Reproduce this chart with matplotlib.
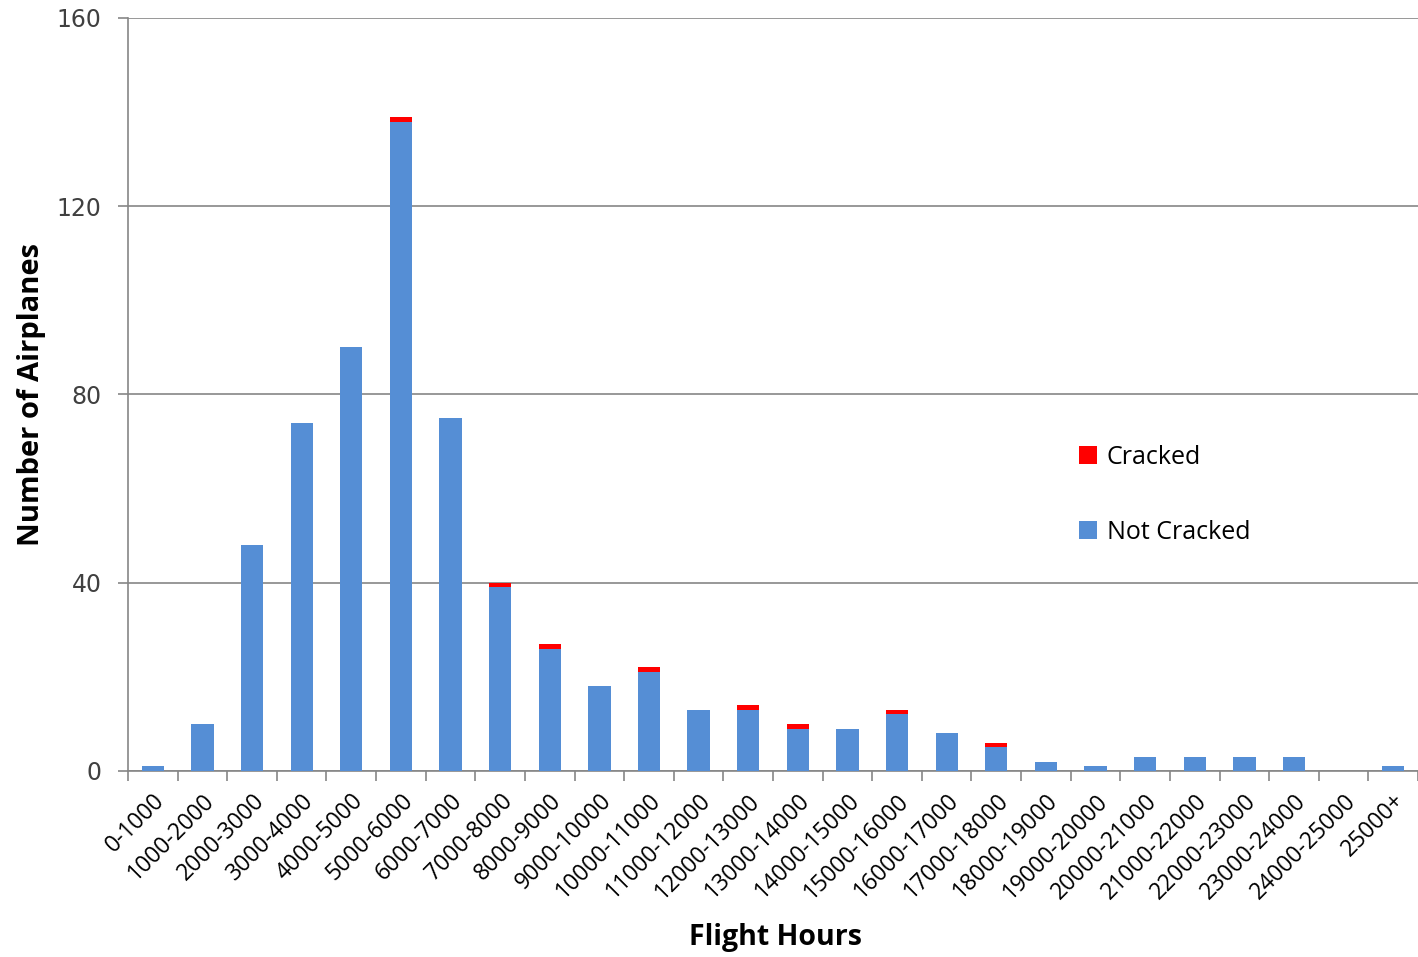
import matplotlib
matplotlib.use("Agg")
import matplotlib.pyplot as plt
import numpy as np

# flight hour bins
categories = [
    "0-1000", "1000-2000", "2000-3000", "3000-4000", "4000-5000", "5000-6000",
    "6000-7000", "7000-8000", "8000-9000", "9000-10000", "10000-11000",
    "11000-12000", "12000-13000", "13000-14000", "14000-15000", "15000-16000",
    "16000-17000", "17000-18000", "18000-19000", "19000-20000", "20000-21000",
    "21000-22000", "22000-23000", "23000-24000", "24000-25000", "25000+",
]
not_cracked = [1, 10, 48, 74, 90, 138, 75, 39, 26, 18, 21, 13, 13, 9, 9, 12,
               8, 5, 2, 1, 3, 3, 3, 3, 0, 1]
cracked = [0, 0, 0, 0, 0, 1, 0, 1, 1, 0, 1, 0, 1, 1, 0, 1,
           0, 1, 0, 0, 0, 0, 0, 0, 0, 0]

blue = "#558ed5"
red = "#ff0000"
grid_gray = "#868686"

fig = plt.figure(figsize=(14.18, 9.57), dpi=100)
ax = fig.add_axes([0.0903, 0.1944, 0.9097, 0.7868])

x = np.arange(len(categories))
ax.bar(x, not_cracked, width=0.45, color=blue, label="Not Cracked", zorder=3)
ax.bar(x, cracked, width=0.45, bottom=not_cracked, color=red, label="Cracked", zorder=3)

ax.set_xlim(-0.5, len(categories) - 0.5)
ax.set_ylim(0, 160)
ax.set_yticks([0, 40, 80, 120, 160])
ax.yaxis.grid(True, color=grid_gray, linewidth=1.2, zorder=0)
ax.set_axisbelow(True)

for side in ["top", "right"]:
    ax.spines[side].set_visible(False)
ax.spines["left"].set_color(grid_gray)
ax.spines["bottom"].set_color(grid_gray)
ax.spines["left"].set_linewidth(1.2)
ax.spines["bottom"].set_linewidth(1.2)

# ticks at category boundaries, labels centred on bars
ax.set_xticks(np.arange(len(categories) + 1) - 0.5)
ax.set_xticklabels([])
ax.set_xticks(x, minor=True)
ax.set_xticklabels(categories, minor=True, rotation=45, ha="right",
                   rotation_mode="anchor", fontsize=16.5, family="Open Sans")
ax.tick_params(axis="x", which="major", length=7, color=grid_gray, width=1.2)
ax.tick_params(axis="x", which="minor", length=0, pad=13)
ax.tick_params(axis="y", length=7, color=grid_gray, width=1.2, labelsize=17, pad=12)
for lbl in ax.get_yticklabels():
    lbl.set_family("DejaVu Sans")
    lbl.set_color("#404040")

fig.text(0.547, 0.02, "Flight Hours", fontsize=20.5, fontweight="bold",
         family="Open Sans", ha="center", va="center")
ax.set_ylabel("Number of Airplanes", fontsize=21, fontweight="bold",
              family="Open Sans", labelpad=8)

handles, labels = ax.get_legend_handles_labels()
ax.legend(handles[::-1], labels[::-1], loc="upper left",
          bbox_to_anchor=(0.72, 0.463), frameon=False,
          prop={"family": "Open Sans", "size": 18}, labelspacing=2.0,
          handlelength=0.7, handleheight=0.7, handletextpad=0.4)

fig.savefig("out.png", dpi=100)
